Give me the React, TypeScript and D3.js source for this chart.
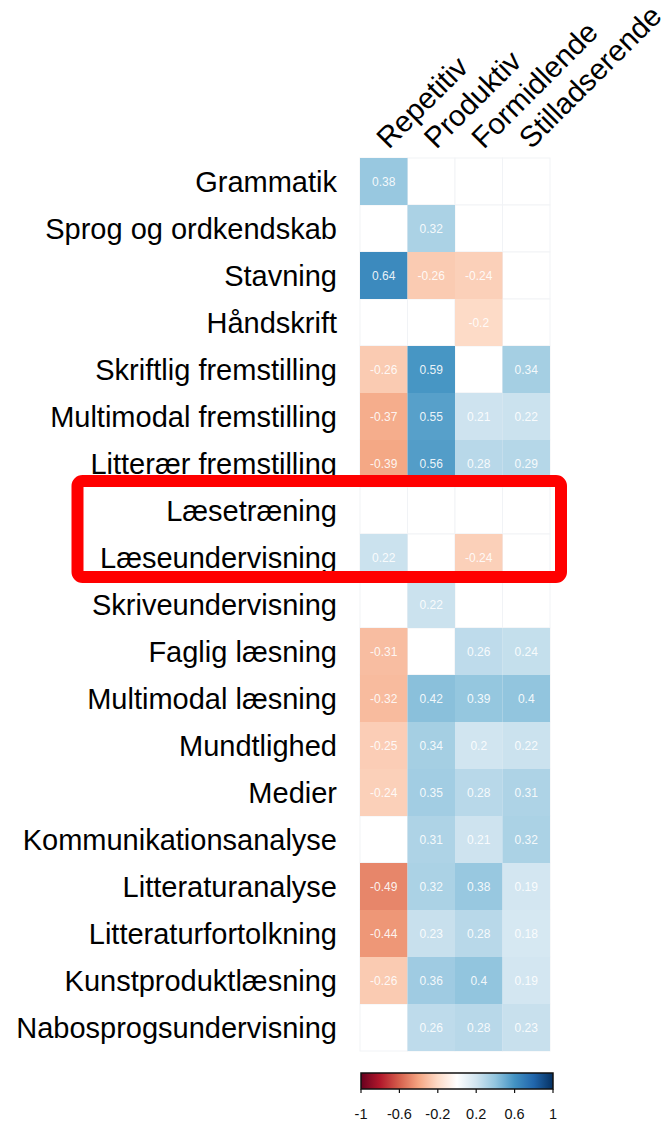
import React from 'react';
import * as d3 from 'd3';

const rowLabels = [
  'Grammatik', 'Sprog og ordkendskab', 'Stavning', 'Håndskrift', 'Skriftlig fremstilling',
  'Multimodal fremstilling', 'Litterær fremstilling', 'Læsetræning', 'Læseundervisning',
  'Skriveundervisning', 'Faglig læsning', 'Multimodal læsning', 'Mundtlighed', 'Medier',
  'Kommunikationsanalyse', 'Litteraturanalyse', 'Litteraturfortolkning', 'Kunstproduktlæsning',
  'Nabosprogsundervisning',
];
const colLabels = ['Repetitiv', 'Produktiv', 'Formidlende', 'Stilladserende'];

// null = blank (not significant)
const repetitiv = [0.38, null, 0.64, null, -0.26, -0.37, -0.39, null, 0.22, null, -0.31, -0.32, -0.25, -0.24, null, -0.49, -0.44, -0.26, null];
const produktiv = [null, 0.32, -0.26, null, 0.59, 0.55, 0.56, null, null, 0.22, null, 0.42, 0.34, 0.35, 0.31, 0.32, 0.23, 0.36, 0.26];
const formidlende = [null, null, -0.24, -0.2, null, 0.21, 0.28, null, -0.24, null, 0.26, 0.39, 0.2, 0.28, 0.21, 0.38, 0.28, 0.4, 0.28];
const stilladserende = [null, null, null, null, 0.34, 0.22, 0.29, null, null, null, 0.24, 0.4, 0.22, 0.31, 0.32, 0.19, 0.18, 0.19, 0.23];
const series = [repetitiv, produktiv, formidlende, stilladserende];

const legendTicks = [-1, -0.6, -0.2, 0.2, 0.6, 1];
const rdbu = ['#67001F', '#B2182B', '#D6604D', '#F4A582', '#FDDBC7', '#FFFFFF', '#D1E5F0', '#92C5DE', '#4393C3', '#2166AC', '#053061'];

const FONT = '"Liberation Sans", Arial, Helvetica, sans-serif';

export default function App() {
  const width = 669;
  const height = 1125;
  const x = d3.scaleBand<string>().domain(colLabels).range([360, 550]);
  const y = d3.scaleBand<string>().domain(rowLabels).range([158, 1051]);
  const color = d3.scaleLinear<string>()
    .domain(d3.range(11).map((i) => -1 + i * 0.2))
    .range(rdbu)
    .interpolate(d3.interpolateRgb);
  const lx = d3.scaleLinear().domain([-1, 1]).range([361, 553]);
  const gradStops = d3.range(0, 1.0001, 0.05);

  return (
    <svg width={width} height={height} style={{ position: 'absolute', left: 0, top: 0 }} fontFamily={FONT}>
      <defs>
        <linearGradient id="legendGrad" x1="0%" x2="100%" y1="0%" y2="0%">
          {gradStops.map((t) => (
            <stop key={t} offset={`${t * 100}%`} stopColor={color(-1 + 2 * t)} />
          ))}
        </linearGradient>
      </defs>
      <rect x={0} y={0} width={width} height={height} fill="#fff" />

      {/* faint grid */}
      {rowLabels.map((r) =>
        colLabels.map((c) => (
          <rect key={`g-${r}-${c}`} x={x(c)} y={y(r)} width={x.bandwidth()} height={y.bandwidth()}
            fill="#fff" stroke="#f1f3f6" strokeWidth={1} />
        ))
      )}

      {/* cells */}
      {series.map((vals, ci) =>
        vals.map((v, ri) => {
          if (v === null) return null;
          const cx = x(colLabels[ci])!;
          const cy = y(rowLabels[ri])!;
          return (
            <g key={`c-${ci}-${ri}`}>
              <rect x={cx} y={cy} width={x.bandwidth()} height={y.bandwidth()} fill={color(v)} />
              <text x={cx + x.bandwidth() / 2} y={cy + y.bandwidth() / 2} textAnchor="middle"
                dominantBaseline="central" fontSize={12} fill="#fff" fillOpacity={0.9}>
                {String(v)}
              </text>
            </g>
          );
        })
      )}

      {/* row labels */}
      {rowLabels.map((r) => (
        <text key={`r-${r}`} x={337} y={y(r)! + y.bandwidth() / 2} textAnchor="end"
          dominantBaseline="central" fontSize={29} fill="#000">
          {r}
        </text>
      ))}

      {/* column labels */}
      {colLabels.map((c) => {
        const cx = x(c)! + x.bandwidth() / 2 + 5;
        const cy = 150;
        return (
          <text key={`cl-${c}`} x={cx} y={cy} transform={`rotate(-45 ${cx} ${cy})`}
            fontSize={29.5} fill="#000">
            {c}
          </text>
        );
      })}

      {/* legend */}
      <rect x={lx(-1)} y={1073} width={lx(1) - lx(-1)} height={16} fill="url(#legendGrad)" stroke="#111" strokeWidth={1.5} />
      {legendTicks.map((t) => (
        <g key={`lt-${t}`}>
          <line x1={lx(t)} x2={lx(t)} y1={1089} y2={1093} stroke="#111" strokeWidth={1.2} />
          <text x={lx(t)} y={1114} textAnchor="middle" dominantBaseline="central" fontSize={14.5} fill="#111">
            {String(t)}
          </text>
        </g>
      ))}

      {/* highlight box */}
      <rect x={77.5} y={481} width={483.5} height={96} rx={5} fill="none" stroke="#ff0000" strokeWidth={12} />
    </svg>
  );
}
